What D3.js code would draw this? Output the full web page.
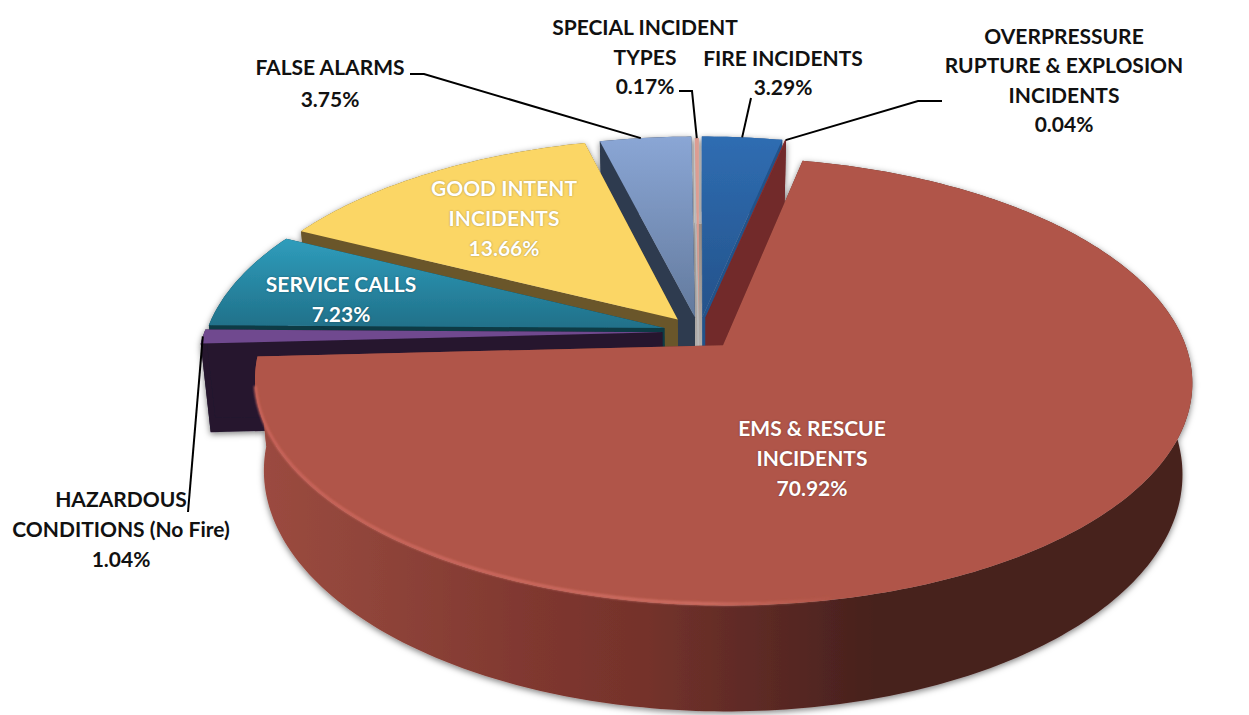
<!DOCTYPE html>
<html>
<head>
<meta charset="utf-8">
<script src="https://cdn.jsdelivr.net/npm/d3@7"></script>
<style>
  html, body { margin: 0; padding: 0; background: #fff; }
  svg { display: block; }
  text { font-family: Lato, "Open Sans", sans-serif; font-weight: 700; font-size: 21px; text-anchor: middle; }
</style>
</head>
<body>
<main></main>
<script>
// values, clockwise from 12 o'clock
const categories = [
    ["FIRE INCIDENTS"],
    ["OVERPRESSURE", "RUPTURE & EXPLOSION", "INCIDENTS"],
    ["EMS & RESCUE", "INCIDENTS"],
    ["HAZARDOUS", "CONDITIONS (No Fire)"],
    ["SERVICE CALLS"],
    ["GOOD INTENT", "INCIDENTS"],
    ["FALSE ALARMS"],
    ["SPECIAL INCIDENT", "TYPES"]
];
const shares = [3.29, 0.04, 70.92, 1.04, 7.23, 13.66, 3.75, 0.17];

// how far each slice is pulled out of the pie
const explode = [0.07, 0.07, 0.08, 0.08, 0.078, 0.075, 0.07, 0.06];
const topLight = ["#2f6db2", "#8a2f2f", "#b05548", "#70498f", "#2f9dbc", "#fbd665", "#8aa6d5", "#dc9c92"];
const topDark = ["#24528a", "#8a2f2f", "#b05548", "#70498f", "#207089", "#fbd665", "#637a9d", "#dc9c92"];
const wallColor = ["#24528a", "#72292a", "url(#emsRim)", "#25162f", "#0d3a44", "#6a572a", "#2e3b4f", "#b9b9b9"];
const drawOrder = [7, 0, 1, 6, 5, 4, 3, 2];

const width = 1249, height = 715;
const cx = 699, cy = 332;
const rx = 458, ry = 214, tilt = 0.16, depth = 88, shrink = 0.02;

const xScale = d3.scaleLinear().domain([-1, 1]).range([cx - rx, cx + rx]);
const yScale = d3.scaleLinear().domain([-1, 1]).range([cy + ry, cy - ry]);
const depthScale = d3.scaleLinear().domain([0, 1]).range([0, depth]);

function project(u, v, drop) {
    let d = 1 + tilt * v;
    let x = xScale(u / d);
    let y = yScale(v / d) + depthScale(drop) / d;
    return [cx + (x - cx) * (1 - shrink * drop), y];
}

let arcs = d3.pie().sort(null).startAngle(0).endAngle(2 * Math.PI)(shares);
arcs.forEach((a, i) => {
    let mid = (a.startAngle + a.endAngle) / 2;
    a.ox = explode[i] * Math.sin(mid);
    a.oy = explode[i] * Math.cos(mid);
});

const rimPoint = (a, t, drop) => project(a.ox + Math.sin(t), a.oy + Math.cos(t), drop);
const apexPoint = (a, drop) => project(a.ox, a.oy, drop);

function rimPoints(a, drop) {
    let steps = Math.max(2, Math.ceil((a.endAngle - a.startAngle) * 60));
    return d3.range(steps + 1).map(j => rimPoint(a, a.startAngle + (a.endAngle - a.startAngle) * j / steps, drop));
}

const line = d3.line();
const closed = pts => line(pts) + "Z";

const svg = d3.select("main").append("svg").attr("width", width).attr("height", height);
const defs = svg.append("defs");

let shadow = defs.append("filter").attr("id", "shadow")
    .attr("x", "-5%").attr("y", "-5%").attr("width", "110%").attr("height", "110%");
shadow.append("feDropShadow").attr("dx", 0).attr("dy", 2).attr("stdDeviation", 3)
    .attr("flood-color", "#000").attr("flood-opacity", 0.5);

defs.append("filter").attr("id", "soft").append("feGaussianBlur").attr("stdDeviation", 0.8);

arcs.forEach((a, i) => {
    let g = defs.append("linearGradient").attr("id", "top" + i).attr("x1", 0).attr("y1", 0).attr("x2", 0).attr("y2", 1);
    g.append("stop").attr("offset", 0).attr("stop-color", topLight[i]);
    g.append("stop").attr("offset", 1).attr("stop-color", topDark[i]);
});

// front rim of the big slice darkens from left to right
let rimGrad = defs.append("linearGradient").attr("id", "emsRim").attr("gradientUnits", "userSpaceOnUse")
    .attr("x1", 255).attr("y1", 0).attr("x2", 1193).attr("y2", 0);
[[0, "#9c4b40"], [0.16, "#8c4238"], [0.3, "#7f372f"], [0.42, "#74322b"], [0.52, "#602b26"], [0.66, "#47211d"], [1, "#47211d"]]
    .forEach(s => rimGrad.append("stop").attr("offset", s[0]).attr("stop-color", s[1]));

let bevelGrad = defs.append("linearGradient").attr("id", "emsBevel").attr("gradientUnits", "userSpaceOnUse")
    .attr("x1", 255).attr("y1", 0).attr("x2", 900).attr("y2", 0);
[[0, "#c9645a", 1], [0.7, "#cf6e63", 1], [1, "#b05548", 0]]
    .forEach(s => bevelGrad.append("stop").attr("offset", s[0]).attr("stop-color", s[1]).attr("stop-opacity", s[2]));

let gapGrad = defs.append("linearGradient").attr("id", "gap").attr("x1", 0).attr("y1", 0).attr("x2", 0).attr("y2", 1);
gapGrad.append("stop").attr("offset", 0).attr("stop-color", "#968b83");
gapGrad.append("stop").attr("offset", 1).attr("stop-color", "#bcbcbc");

const pie = svg.append("g").attr("filter", "url(#shadow)");

// grey core showing in the gap behind the thin slice
let fire = arcs[0], falseAlarm = arcs[6];
pie.append("path").attr("fill", "url(#gap)").attr("d", closed([
    project(falseAlarm.ox, 0.55, 0), project(fire.ox, 0.55, 0),
    project(fire.ox, fire.oy, 1), project(falseAlarm.ox, fire.oy, 1)
]));

drawOrder.forEach(i => {
    let a = arcs[i];
    let g = pie.append("g");
    let rimTop = rimPoints(a, 0);
    let rimBottom = rimPoints(a, 1).reverse();

    g.append("path").attr("fill", wallColor[i]).attr("d", closed(rimTop.concat(rimBottom)));
    [a.startAngle, a.endAngle].forEach(t => {
        g.append("path").attr("fill", wallColor[i]).attr("d", closed([
            apexPoint(a, 0), rimPoint(a, t, 0), rimPoint(a, t, 1), apexPoint(a, 1)
        ]));
    });
    g.append("path").attr("fill", "url(#top" + i + ")").attr("d", closed([apexPoint(a, 0)].concat(rimTop)));
});

// light edge along the lower left of the big slice
let ems = arcs[2];
let bevelArc = d3.range(0, 41).map(j => rimPoint(ems, Math.PI * (1.44 - 0.5 * j / 40), 0))
    .map(p => [p[0], p[1] - 1.5]);
pie.append("path").attr("fill", "none").attr("stroke", "url(#emsBevel)").attr("stroke-width", 3)
    .attr("filter", "url(#soft)").attr("d", line(bevelArc));

// label placement, in page pixels
const labelX = [783, 1064, 812, 121, 341, 504, 330, 645];
const labelY = [66, 44, 436, 507, 292, 196, 75, 35];
const labelGap = [29, 29.3, 30, 30, 30, 30, 32, 29.5];
const insideSlice = [false, false, true, false, true, true, false, false];

arcs.forEach((a, i) => {
    let lines = categories[i].concat([a.value.toFixed(2) + "%"]);
    svg.append("g").selectAll("text").data(lines).enter().append("text")
        .attr("x", labelX[i])
        .attr("y", (d, j) => labelY[i] + j * labelGap[i])
        .attr("fill", insideSlice[i] ? "#fff" : "#111")
        .style("text-shadow", insideSlice[i] ? "0 0 2px rgba(0,0,0,.35)" : null)
        .text(d => d);
});

// leader lines run from the label to the slice rim
const leaderStart = {
    0: [[751, 98]],
    1: [[942, 101], [918, 101]],
    3: [[188, 512]],
    6: [[410, 74], [424, 74]],
    7: [[679, 91], [692, 91]]
};
const leaderAt = { 0: 0.5, 1: 0.5, 3: 0.5, 6: 0.45, 7: 0.5 };
Object.keys(leaderStart).forEach(k => {
    let a = arcs[k];
    let end = rimPoint(a, a.startAngle + (a.endAngle - a.startAngle) * leaderAt[k], 0);
    svg.append("path").attr("fill", "none").attr("stroke", "#000").attr("stroke-width", 2)
        .attr("d", line(leaderStart[k].concat([end])));
});
</script>
</body>
</html>
